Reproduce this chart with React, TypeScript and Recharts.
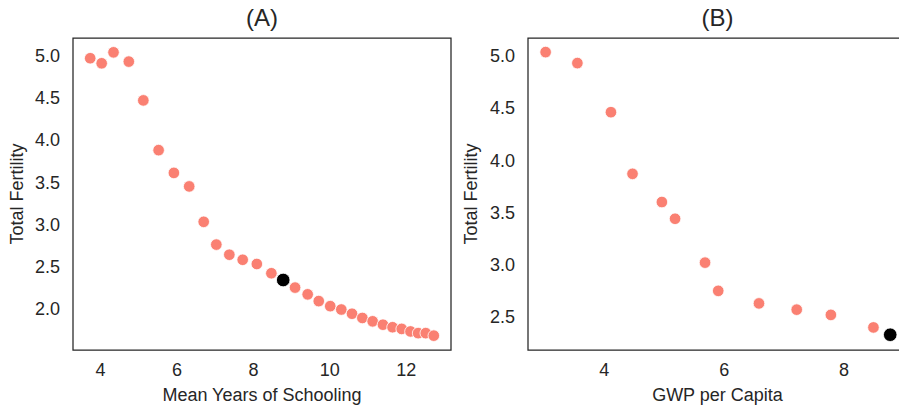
import React from 'react';
import { ScatterChart, Scatter, XAxis, YAxis, ReferenceArea, Label } from 'recharts';

// Panel A: fertility against mean years of schooling
const schoolingYears = [
  3.73, 4.03, 4.34, 4.74, 5.12, 5.52, 5.92, 6.32, 6.7, 7.03, 7.37, 7.72, 8.09, 8.47,
  9.09, 9.42, 9.71, 10.01, 10.3, 10.58, 10.85, 11.12, 11.39, 11.64, 11.88, 12.11, 12.31, 12.51, 12.72,
];
const schoolingFertility = [
  4.97, 4.91, 5.04, 4.93, 4.47, 3.88, 3.61, 3.45, 3.03, 2.76, 2.64, 2.58, 2.53, 2.42,
  2.25, 2.17, 2.09, 2.03, 1.99, 1.94, 1.89, 1.85, 1.81, 1.78, 1.76, 1.73, 1.71, 1.71, 1.68,
];
const schoolingHighlight = { x: 8.78, y: 2.34 };
const schoolingXTicks = [4, 6, 8, 10, 12];
const schoolingYTicks = [2.0, 2.5, 3.0, 3.5, 4.0, 4.5, 5.0];

// Panel B: fertility against GWP per capita
const gwpPerCapita = [3.02, 3.55, 4.11, 4.47, 4.96, 5.18, 5.68, 5.9, 6.58, 7.21, 7.78, 8.49];
const gwpFertility = [5.035, 4.93, 4.46, 3.87, 3.6, 3.44, 3.02, 2.75, 2.63, 2.57, 2.52, 2.4];
const gwpHighlight = { x: 8.77, y: 2.33 };
const gwpXTicks = [4, 6, 8];
const gwpYTicks = [2.5, 3.0, 3.5, 4.0, 4.5, 5.0];

const FONT = '"Liberation Sans", Arial, Helvetica, sans-serif';
const INK = '#262626';
const SALMON = '#FA8072';

const zip = (xs: number[], ys: number[]) => xs.map((x, i) => ({ x, y: ys[i] }));

const Dot = (r: number, fill: string) => (props: any) => (
  <circle cx={props.cx} cy={props.cy} r={r} fill={fill} stroke="#fff" strokeWidth={0.8} />
);

const yLabel = (text: string, offset: number) => (props: any) => {
  const vb = props.viewBox;
  const cx = vb.x + offset;
  const cy = vb.y + vb.height / 2;
  return (
    <text x={cx} y={cy} transform={`rotate(-90 ${cx} ${cy})`} textAnchor="middle"
      dominantBaseline="central" fill={INK} fontSize={18} fontFamily={FONT}>
      {text}
    </text>
  );
};

interface PanelProps {
  title: string;
  xLabel: string;
  xs: number[];
  ys: number[];
  highlight: { x: number; y: number };
  xDomain: [number, number];
  yDomain: [number, number];
  xTicks: number[];
  yTicks: number[];
  width: number;
  axisWidth: number;
  rightMargin: number;
  labelOffset: number;
}

const Panel: React.FC<PanelProps> = (p) => {
  const tick = { fill: INK, fontSize: 18, fontFamily: FONT };
  const plotWidth = p.width - p.axisWidth - p.rightMargin;
  return (
    <div style={{ position: 'relative', width: p.width, height: 410 }}>
      <div style={{
        position: 'absolute', left: p.axisWidth, top: 6, width: plotWidth, textAlign: 'center',
        fontFamily: FONT, fontSize: 24, lineHeight: '24px', color: INK,
      }}>
        {p.title}
      </div>
      <ScatterChart width={p.width} height={410} margin={{ top: 38, right: p.rightMargin, bottom: 0, left: 0 }}>
        <XAxis type="number" dataKey="x" domain={p.xDomain} ticks={p.xTicks} allowDataOverflow
          height={60} axisLine={false} tickLine={false} tickSize={0} tickMargin={13} tick={tick}>
          <Label value={p.xLabel} position="insideBottom" offset={9} fill={INK} fontSize={18} fontFamily={FONT} />
        </XAxis>
        <YAxis type="number" dataKey="y" domain={p.yDomain} ticks={p.yTicks} allowDataOverflow
          width={p.axisWidth} axisLine={false} tickLine={false} tickSize={0} tickMargin={13} tick={tick}
          tickFormatter={(v: number) => v.toFixed(1)}
          label={{ content: yLabel('Total Fertility', p.labelOffset) }} />
        <ReferenceArea x1={p.xDomain[0]} x2={p.xDomain[1]} y1={p.yDomain[0]} y2={p.yDomain[1]}
          fill="none" stroke={INK} strokeWidth={1.25} ifOverflow="visible" />
        <Scatter data={zip(p.xs, p.ys)} shape={Dot(5.8, SALMON)} isAnimationActive={false} />
        <Scatter data={[p.highlight]} shape={Dot(6.8, '#000')} isAnimationActive={false} />
      </ScatterChart>
    </div>
  );
};

export default function App() {
  return (
    <div style={{
      position: 'absolute', left: 0, top: 0, width: 899, height: 410, overflow: 'hidden', background: '#fff',
    }}>
      <div style={{ position: 'absolute', left: 0, top: 0 }}>
        <Panel title="(A)" xLabel="Mean Years of Schooling" xs={schoolingYears} ys={schoolingFertility}
          highlight={schoolingHighlight} xDomain={[3.28, 13.17]} yDomain={[1.51, 5.21]}
          xTicks={schoolingXTicks} yTicks={schoolingYTicks} width={453} axisWidth={73} rightMargin={2}
          labelOffset={17} />
      </div>
      <div style={{ position: 'absolute', left: 450, top: 0 }}>
        <Panel title="(B)" xLabel="GWP per Capita" xs={gwpPerCapita} ys={gwpFertility}
          highlight={gwpHighlight} xDomain={[2.726, 9.05]} yDomain={[2.184, 5.17]}
          xTicks={gwpXTicks} yTicks={gwpYTicks} width={460} axisWidth={78} rightMargin={3}
          labelOffset={21} />
      </div>
    </div>
  );
}
